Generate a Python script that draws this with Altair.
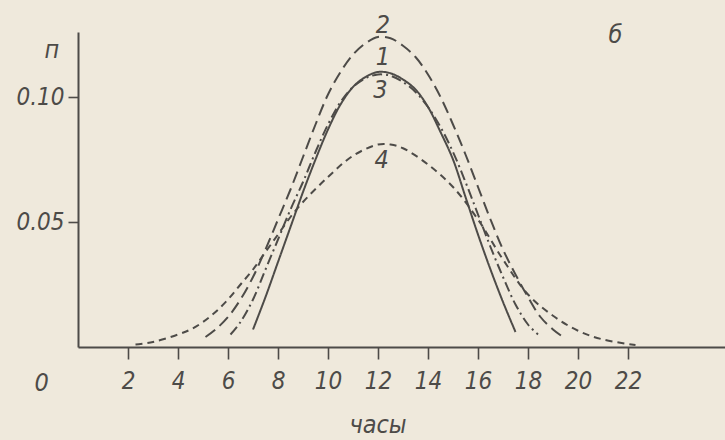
import altair as alt
import pandas as pd

# Diurnal distributions (share per hour) for the four series
hours_1 = [7.0, 7.5, 8.0, 8.5, 9.0, 9.5, 10.0, 10.5, 11.0, 11.5, 12.0, 12.5, 13.0, 13.5, 14.0, 14.5, 15.0, 15.5, 16.0, 16.5, 17.0, 17.5]
share_1 = [0.007, 0.020, 0.034, 0.048, 0.062, 0.075, 0.087, 0.097, 0.104, 0.108, 0.110, 0.1095, 0.107, 0.103, 0.096, 0.086, 0.075, 0.060, 0.045, 0.031, 0.018, 0.006]

hours_2 = [5.1, 5.5, 6.0, 6.5, 7.0, 7.5, 8.0, 8.5, 9.0, 9.5, 10.0, 10.5, 11.0, 11.5, 12.0, 12.5, 13.0, 13.5, 14.0, 14.5, 15.0, 15.5, 16.0, 16.5, 17.0, 17.5, 18.0, 18.5, 19.0, 19.4]
share_2 = [0.004, 0.007, 0.012, 0.019, 0.028, 0.039, 0.051, 0.063, 0.076, 0.089, 0.101, 0.110, 0.117, 0.1215, 0.124, 0.1235, 0.1205, 0.116, 0.109, 0.100, 0.089, 0.077, 0.064, 0.051, 0.039, 0.029, 0.020, 0.012, 0.007, 0.004]

hours_3 = [6.1, 6.5, 7.0, 7.5, 8.0, 8.5, 9.0, 9.5, 10.0, 10.5, 11.0, 11.5, 12.0, 12.5, 13.0, 13.5, 14.0, 14.5, 15.0, 15.5, 16.0, 16.5, 17.0, 17.5, 18.0, 18.4]
share_3 = [0.005, 0.010, 0.019, 0.031, 0.043, 0.055, 0.066, 0.078, 0.089, 0.098, 0.104, 0.1075, 0.109, 0.1085, 0.106, 0.102, 0.096, 0.088, 0.078, 0.066, 0.053, 0.040, 0.028, 0.017, 0.009, 0.005]

hours_4 = [2.3, 3.0, 4.0, 4.5, 5.0, 5.5, 6.0, 6.5, 7.0, 7.5, 8.0, 8.5, 9.0, 10.0, 11.0, 12.0, 12.5, 13.0, 14.0, 15.0, 16.0, 17.0, 18.0, 19.0, 20.0, 21.0, 22.3]
share_4 = [0.001, 0.002, 0.005, 0.007, 0.010, 0.014, 0.019, 0.025, 0.031, 0.038, 0.045, 0.052, 0.058, 0.068, 0.0765, 0.081, 0.081, 0.0795, 0.073, 0.064, 0.051, 0.035, 0.021, 0.0125, 0.0065, 0.003, 0.0008]

series_names = ["1", "2", "3", "4"]
dash_styles = [[1, 0], [12, 6], [10, 4, 2, 4], [7, 5]]

x_ticks = [2, 4, 6, 8, 10, 12, 14, 16, 18, 20, 22]
y_ticks = [0.05, 0.10]

# Text annotations: curve numbers, axis letters, origin label
note_text = ["2", "1", "3", "4", "п", "б", "0", "часы"]
note_x = [12.2, 12.2, 12.1, 12.15, -1.05, 21.5, -1.45, 12.0]
note_y = [0.1288, 0.1160, 0.1030, 0.0750, 0.1190, 0.1250, -0.0145, -0.0312]

ink = "#4d4b48"
paper = "#efe9dc"
font = "DejaVu Sans Condensed, Liberation Sans Narrow, Liberation Sans, sans-serif"

frames = []
for name, hx, sy in zip(series_names, [hours_1, hours_2, hours_3, hours_4], [share_1, share_2, share_3, share_4]):
    frames.append(pd.DataFrame({"hour": hx, "share": sy, "series": name, "order": range(len(hx))}))
curves = pd.concat(frames, ignore_index=True)

notes = pd.DataFrame({"text": note_text, "hour": note_x, "share": note_y})

x_scale = alt.Scale(domain=[0, 25.88], nice=False, zero=False)
y_scale = alt.Scale(domain=[0, 0.126], nice=False, zero=False)

lines = alt.Chart(curves).mark_line(color=ink, strokeWidth=2, interpolate="catmull-rom").encode(
    x=alt.X("hour:Q", scale=x_scale,
            axis=alt.Axis(values=x_ticks, title=None, grid=False, tickSize=12, tickWidth=1.6,
                          tickColor=ink, domainColor=ink, domainWidth=2, labelFontSize=24,
                          labelFont=font, labelFontStyle="italic", labelColor=ink,
                          labelPadding=10, labelFlush=False)),
    y=alt.Y("share:Q", scale=y_scale,
            axis=alt.Axis(values=y_ticks, title=None, grid=False, tickSize=10, tickWidth=1.6,
                          tickColor=ink, domainColor=ink, domainWidth=2, labelFontSize=24,
                          labelFont=font, labelFontStyle="italic", labelColor=ink,
                          labelPadding=4, format=".2f", labelFlush=False)),
    detail="series:N",
    order="order:Q",
    strokeDash=alt.StrokeDash("series:N", scale=alt.Scale(domain=series_names, range=dash_styles), legend=None),
)

labels = alt.Chart(notes).mark_text(color=ink, fontSize=25, font=font, fontStyle="italic",
                                    align="center", baseline="middle").encode(
    x=alt.X("hour:Q", scale=x_scale),
    y=alt.Y("share:Q", scale=y_scale),
    text="text:N",
)

chart = alt.layer(lines, labels).properties(
    width=647,
    height=315,
    background=paper,
    padding={"left": 78, "top": 32, "right": 0, "bottom": 93},
    autosize=alt.AutoSizeParams(type="none"),
).configure_view(stroke=None)

chart.save("out.html", embed_options={"renderer": "svg", "actions": False})
